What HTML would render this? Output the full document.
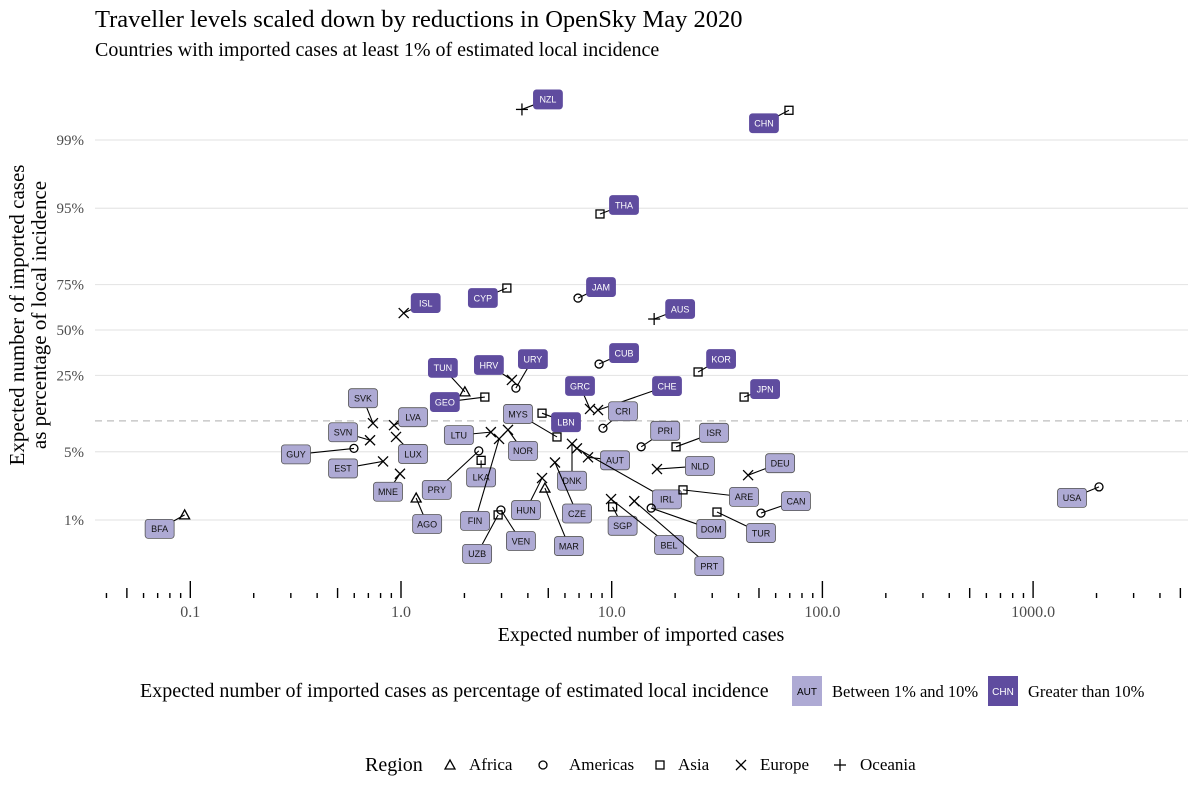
<!DOCTYPE html>
<html><head><meta charset="utf-8"><style>
body{margin:0;background:#fff;}
svg text{font-family:"Liberation Serif",serif;}
</style></head><body>
<svg id="chart" width="1200" height="800" xmlns="http://www.w3.org/2000/svg">
<text x="95" y="27" font-size="24.5" fill="#000">Traveller levels scaled down by reductions in OpenSky May 2020</text>
<text x="95" y="56" font-size="20" fill="#000">Countries with imported cases at least 1% of estimated local incidence</text>
<g id="grid"></g>
<g id="yticks"></g>
<g id="xticks"></g>
<g id="marks"></g>
<text x="641" y="641" font-size="20" text-anchor="middle">Expected number of imported cases</text>
<text transform="translate(24,315) rotate(-90)" font-size="21" text-anchor="middle"><tspan x="0" dy="0">Expected number of imported cases</tspan><tspan x="0" dy="22">as percentage of local incidence</tspan></text>
<g>
<text x="140" y="697" font-size="20">Expected number of imported cases as percentage of estimated local incidence</text>
<rect x="792" y="676" width="30" height="30" fill="#aeaad4"/>
<text x="807" y="695" font-size="10" text-anchor="middle" style="font-family:'Liberation Sans',sans-serif">AUT</text>
<text x="832" y="697" font-size="16.5">Between 1% and 10%</text>
<rect x="988" y="676" width="30" height="30" fill="#5f4c9f"/>
<text x="1003" y="695" font-size="10" fill="#fff" text-anchor="middle" style="font-family:'Liberation Sans',sans-serif">CHN</text>
<text x="1028" y="697" font-size="16.5">Greater than 10%</text>
</g>
<g id="shapeLegend">
<text x="365" y="771" font-size="20">Region</text>
</g>
</svg>
<script>
const countries=["BFA","USA","NZL","CHN","THA","CYP","ISL","JAM","AUS","TUN","HRV","URY","GEO","SVK","LVA","SVN","LUX","GUY","EST","MNE","AGO","PRY","LKA","LTU","NOR","FIN","LBN","MYS","UZB","VEN","HUN","MAR","DNK","GRC","CZE","CUB","KOR","CHE","CRI","JPN","PRI","ISR","AUT","IRL","NLD","DEU","ARE","CAN","SGP","BEL","PRT","DOM","TUR"];
const importedCases=[0.094,2055,3.75,69.4,8.8,3.18,1.03,6.92,15.9,2.01,3.36,3.51,2.50,0.736,0.927,0.713,0.947,0.598,0.822,0.989,1.18,2.34,2.40,2.67,3.22,2.92,4.67,5.50,2.89,2.98,4.67,4.82,6.48,7.89,5.38,8.71,25.7,8.61,9.09,42.5,13.8,20.2,7.72,6.84,16.4,44.4,21.8,51.1,10.1,9.93,12.8,15.4,31.6];
const pctLocal=[1.13,2.2,99.52,99.51,94.3,73.4,60.1,68.4,56.6,18.3,23.0,19.7,16.5,9.5,9.1,6.5,7.0,5.4,4.0,3.0,1.69,5.1,4.1,7.8,8.2,6.7,11.8,7.0,1.13,1.27,2.71,2.14,6.0,12.9,3.9,30.5,26.6,12.6,8.5,16.5,5.6,5.6,4.4,5.4,3.35,2.9,2.05,1.18,1.37,1.65,1.57,1.33,1.21];
const regions=["Africa","Americas","Oceania","Asia","Asia","Asia","Europe","Americas","Oceania","Africa","Europe","Americas","Asia","Europe","Europe","Europe","Europe","Americas","Europe","Europe","Africa","Americas","Asia","Europe","Europe","Europe","Asia","Asia","Asia","Americas","Europe","Africa","Europe","Europe","Europe","Americas","Asia","Europe","Americas","Asia","Americas","Asia","Europe","Europe","Europe","Europe","Asia","Americas","Asia","Europe","Europe","Americas","Asia"];
const yTickValues=[1,5,25,50,75,95,99];
const yTickLabels=["1%","5%","25%","50%","75%","95%","99%"];
const xTickValues=[0.1,1,10,100,1000];
const xTickLabels=["0.1","1.0","10.0","100.0","1000.0"];
// layout: label offsets (px) from point (ggrepel placement)
const labelDx=[-25,-27,26,-25,24,-24,22,23,26,-22,-23,17,-40,-10,19,-27,17,-58,-40,-12,11,-42,0,-32,15,-24,24,-39,-21,20,-16,24,0,-10,22,25,23,69,20,21,24,38,27,90,43,32,61,35,10,58,75,60,44];
const labelDy=[14,11,-10,13,-9,10,-10,-11,-10,-24,-15,-29,5,-25,-8,-8,17,6,7,18,26,39,17,3,21,82,9,-23,39,31,32,58,37,-23,51,-11,-13,-24,-17,-8,-16,-14,3,51,-3,-12,7,-12,19,46,65,21,21];
const SVGNS="http://www.w3.org/2000/svg";
const X0=95,X1=1188;
function xs(v){return 401+210.7*Math.log10(v);}
function ys(p){const q=p/100;return 330-41.35*Math.log(q/(1-q));}
function mk(tag,attrs,parent){const e=document.createElementNS(SVGNS,tag);for(const k in attrs)e.setAttribute(k,attrs[k]);parent.appendChild(e);return e;}
const grid=document.getElementById('grid'),yt=document.getElementById('yticks'),xt=document.getElementById('xticks'),marks=document.getElementById('marks');
yTickValues.forEach((v,i)=>{
 const l=mk('line',{x1:X0,x2:X1,y1:ys(v),y2:ys(v),stroke:'#e6e6e6','stroke-width':1.2},grid);
 
 
 const t=mk('text',{x:84,y:ys(v)+5,'text-anchor':'end','font-size':15,fill:'#4d4d4d'},yt);
 
 
 t.textContent=yTickLabels[i];
});
const dl=mk('line',{x1:X0,x2:X1,y1:ys(10),y2:ys(10),stroke:'#bdbdbd','stroke-width':1.3,'stroke-dasharray':'7,5'},grid);


for(let d=-2;d<=3;d++){for(let m=1;m<=9;m++){const v=m*Math.pow(10,d);const x=xs(v);if(x<100||x>1186)continue;
 const len=m===1?17:(m===5?10:5);
 const tk=mk('line',{x1:x,x2:x,y1:598-len,y2:598,stroke:'#000','stroke-width':1.4},xt);
 
 }}
xTickValues.forEach((v,i)=>{const t=mk('text',{x:xs(v),y:617,'text-anchor':'middle','font-size':16,fill:'#4d4d4d'},xt);
 
 
 t.textContent=xTickLabels[i];});
function shape(reg,x,y,parent){const g=mk('g',{stroke:'#000','stroke-width':1.3,fill:'none'},parent);const s=5;
 if(reg==='Africa')mk('polygon',{points:`${x},${y-s} ${x-s},${y+s-1} ${x+s},${y+s-1}`},g);
 else if(reg==='Americas')mk('circle',{cx:x,cy:y,r:4},g);
 else if(reg==='Asia')mk('rect',{x:x-4,y:y-4,width:8,height:8},g);
 else if(reg==='Europe'){mk('line',{x1:x-s,y1:y-s,x2:x+s,y2:y+s},g);mk('line',{x1:x-s,y1:y+s,x2:x+s,y2:y-s},g);}
 else {mk('line',{x1:x-6,y1:y,x2:x+6,y2:y},g);mk('line',{x1:x,y1:y-6,x2:x,y2:y+6},g);}
 return g;}
countries.forEach((c,i)=>{
 const x=xs(importedCases[i]),y=ys(pctLocal[i]);const lx=x+labelDx[i],ly=y+labelDy[i];
 const seg=mk('line',{x1:x,y1:y,x2:lx,y2:ly,stroke:'#000','stroke-width':1.1},marks);
 
 
 const p=shape(regions[i],x,y,marks);
 
 
 const hi=pctLocal[i]>=10;
 const lg=mk('g',{},marks);
 
 
 mk('rect',{x:lx-14.5,y:ly-9.5,width:29,height:19,rx:3,fill:hi?'#5f4c9f':'#aeaad4',stroke:hi?'#5f4c9f':'#555','stroke-width':0.8},lg);
 const t=mk('text',{x:lx,y:ly+3.3,'text-anchor':'middle','font-size':9,fill:hi?'#fff':'#111',style:"font-family:'Liberation Sans',sans-serif"},lg);
 t.textContent=c;
});
const sl=document.getElementById('shapeLegend');
[["Africa",450,469],["Americas",543,569],["Asia",660,678],["Europe",741,760],["Oceania",840,860]].forEach(r=>{
 const g=shape(r[0],r[1],765,sl);
 
 
 const t=mk('text',{x:r[2],y:770,'font-size':17},sl);
 
 
 t.textContent=r[0];});
</script>
</body></html>
